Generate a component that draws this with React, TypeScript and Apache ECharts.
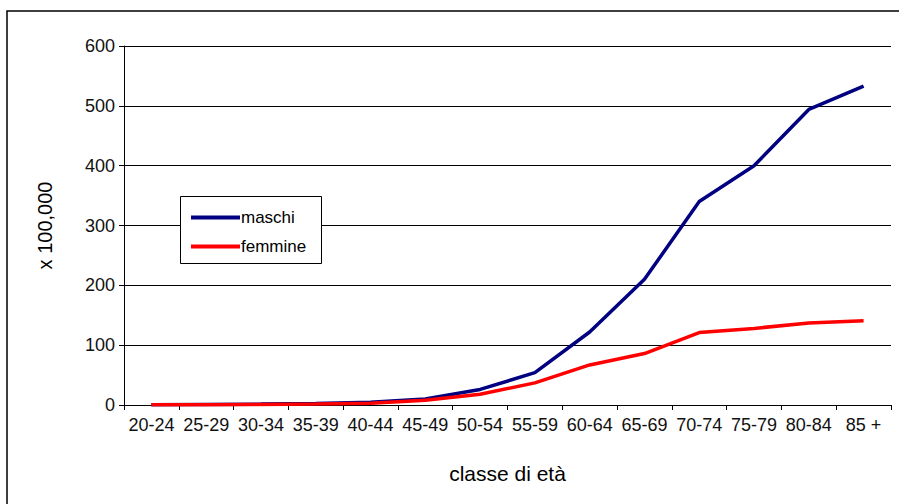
import React, { useEffect, useRef } from "react";
import * as echarts from "echarts";

const categories = ["20-24", "25-29", "30-34", "35-39", "40-44", "45-49", "50-54", "55-59", "60-64", "65-69", "70-74", "75-79", "80-84", "85 +"];
const maschi = [0.5, 1, 1.5, 2.5, 4.5, 10, 26, 54, 122, 210, 340, 400, 494, 533];
const femmine = [0.3, 0.5, 1, 1.5, 3, 8, 18, 37, 67, 86, 121, 128, 137, 141];
const yTicks = { min: 0, max: 600, interval: 100 };

export default function App() {
  const ref = useRef<HTMLDivElement>(null);
  useEffect(() => {
    if (!ref.current) return;
    const chart = echarts.init(ref.current, undefined, { renderer: "svg" });
    const font = "'Liberation Sans', Arial, sans-serif";
    chart.setOption({
      animation: false,
      backgroundColor: "#ffffff",
      textStyle: { fontFamily: font },
      grid: { left: 124, right: 8, top: 46, bottom: 99, containLabel: false },
      graphic: [
        {
          type: "rect",
          shape: { x: 7, y: 11, width: 900, height: 500 },
          style: { fill: "none", stroke: "#000", lineWidth: 1.5 },
          z: -1,
        },
        {
          type: "rect",
          shape: { x: 180.5, y: 196.5, width: 141, height: 67 },
          style: { fill: "#fff", stroke: "#000", lineWidth: 1 },
          z: 10,
        },
      ],
      legend: {
        left: 186,
        top: 204,
        orient: "vertical",
        itemWidth: 49,
        itemHeight: 4,
        itemGap: 12,
        icon: "rect",
        z: 11,
        textStyle: { fontSize: 17, color: "#000", fontFamily: font, padding: [0, 0, 0, -4] },
        data: ["maschi", "femmine"],
      },
      xAxis: {
        type: "category",
        data: categories,
        name: "classe di età",
        nameLocation: "middle",
        nameGap: 58,
        nameTextStyle: { fontSize: 21, color: "#000", fontFamily: font },
        axisLine: { lineStyle: { color: "#000", width: 1 } },
        axisTick: { show: true, length: 5, lineStyle: { color: "#000" } },
        axisLabel: { color: "#111", fontSize: 18, margin: 11, interval: 0, fontFamily: font },
      },
      yAxis: {
        type: "value",
        min: yTicks.min,
        max: yTicks.max,
        interval: yTicks.interval,
        name: "x 100,000",
        nameLocation: "middle",
        nameGap: 69,
        nameTextStyle: { fontSize: 20, color: "#000", fontFamily: font },
        axisLine: { show: true, lineStyle: { color: "#000", width: 1 } },
        axisTick: { show: true, length: 5, lineStyle: { color: "#000" } },
        axisLabel: { color: "#111", fontSize: 18, margin: 9, fontFamily: font },
        splitLine: { lineStyle: { color: "#000", width: 1 } },
      },
      series: [
        {
          name: "maschi",
          type: "line",
          data: maschi,
          symbol: "none",
          lineStyle: { color: "#000080", width: 3.5 },
          itemStyle: { color: "#000080" },
          z: 3,
        },
        {
          name: "femmine",
          type: "line",
          data: femmine,
          symbol: "none",
          lineStyle: { color: "#ff0000", width: 3.5 },
          itemStyle: { color: "#ff0000" },
          z: 4,
        },
      ],
    });
    return () => chart.dispose();
  }, []);
  return (
    <div
      ref={ref}
      style={{ position: "fixed", left: 0, top: 0, width: 899, height: 504 }}
    />
  );
}
